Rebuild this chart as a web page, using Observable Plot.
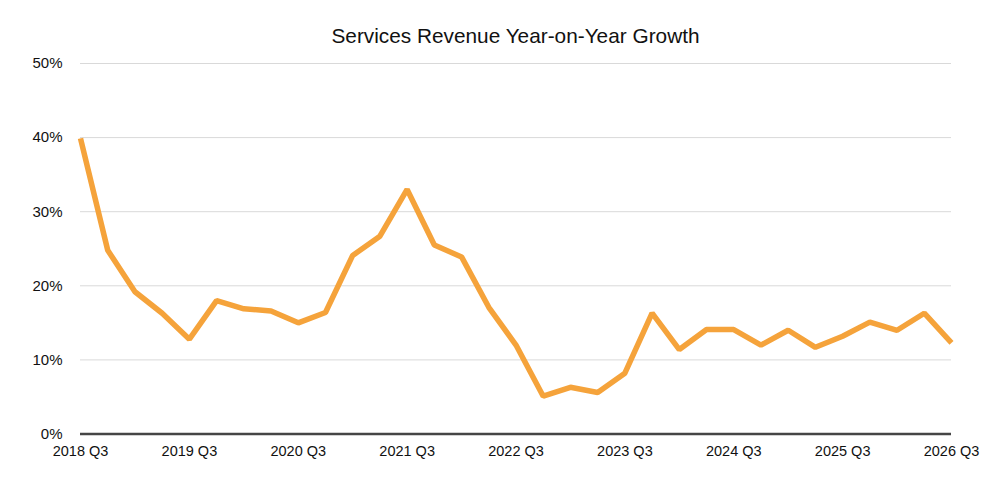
<!DOCTYPE html>
<html>
<head>
<meta charset="utf-8">
<script src="https://cdn.jsdelivr.net/npm/d3@7"></script>
<script src="https://cdn.jsdelivr.net/npm/@observablehq/plot@0.6"></script>
<style>
  html, body { margin: 0; padding: 0; background: #fff; }
  #wrap { width: 1000px; height: 496px; font-family: "Liberation Sans", Arial, Helvetica, sans-serif; }
  #title { box-sizing: border-box; width: 1000px; height: 48px; padding: 24px 0 0 31px; text-align: center; font-size: 20.8px; line-height: 24px; color: #111; }
</style>
</head>
<body>
<div id="wrap">
  <div id="title">Services Revenue Year-on-Year Growth</div>
  <div id="chart"></div>
</div>
<script>
const quarters = [
  "2018 Q3","2018 Q4","2019 Q1","2019 Q2","2019 Q3","2019 Q4","2020 Q1","2020 Q2",
  "2020 Q3","2020 Q4","2021 Q1","2021 Q2","2021 Q3","2021 Q4","2022 Q1","2022 Q2",
  "2022 Q3","2022 Q4","2023 Q1","2023 Q2","2023 Q3","2023 Q4","2024 Q1","2024 Q2",
  "2024 Q3","2024 Q4","2025 Q1","2025 Q2","2025 Q3","2025 Q4","2026 Q1","2026 Q2",
  "2026 Q3"
];
const growth = [
  39.9, 24.8, 19.2, 16.3, 12.8, 18.0, 16.9, 16.6,
  15.0, 16.4, 24.1, 26.7, 33.0, 25.5, 23.9, 17.1,
  12.0, 5.1, 6.3, 5.6, 8.2, 16.3, 11.4, 14.1,
  14.1, 12.0, 14.0, 11.7, 13.2, 15.1, 14.0, 16.3,
  12.3
];
const xTicks = ["2018 Q3","2019 Q3","2020 Q3","2021 Q3","2022 Q3","2023 Q3","2024 Q3","2025 Q3","2026 Q3"];
const yTicks = [0, 10, 20, 30, 40, 50];

const data = quarters.map((q, i) => ({quarter: q, value: growth[i]}));

const chart = Plot.plot({
  width: 1000,
  height: 448,
  marginTop: 15,
  marginBottom: 62.5,
  marginLeft: 80,
  marginRight: 49,
  style: {fontFamily: '"Liberation Sans", Arial, Helvetica, sans-serif', background: "#fff", color: "#111"},
  x: {type: "point", domain: quarters, padding: 0, round: false, label: null},
  y: {domain: [0, 50], label: null},
  marks: [
    Plot.gridY(yTicks, {stroke: "#d9d9d9", strokeOpacity: 1, strokeWidth: 1}),
    Plot.axisY(yTicks, {tickSize: 0, tickPadding: 18, tickFormat: d => d + "%", fontSize: 15, label: null}),
    Plot.axisX(xTicks, {tickSize: 0, tickPadding: 12, fontSize: 14.5, label: null}),
    Plot.ruleY([0], {stroke: "#454545", strokeWidth: 2.5}),
    Plot.line(data, {x: "quarter", y: "value", stroke: "#F5A33B", strokeWidth: 5.5, strokeLinejoin: "miter", strokeLinecap: "butt"})
  ]
});
document.getElementById("chart").appendChild(chart);
</script>
</body>
</html>
